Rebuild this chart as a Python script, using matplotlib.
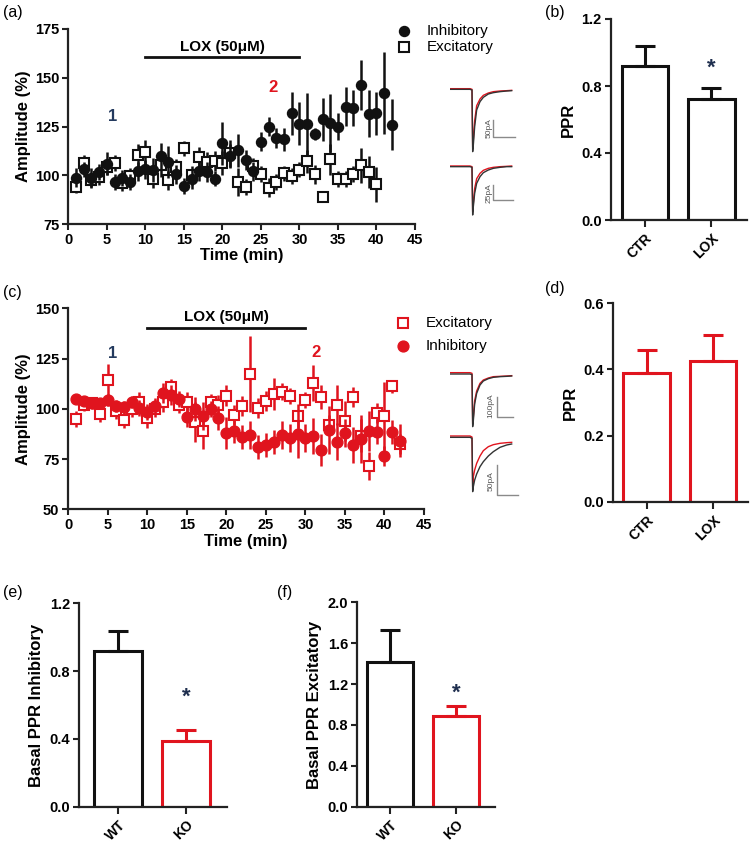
import matplotlib
matplotlib.use("Agg")
import matplotlib.pyplot as plt
import numpy as np

plt.rcParams['font.family'] = ['Liberation Sans', 'DejaVu Sans']

W, H = 755, 843
RED = '#e0141e'
BLK = '#111111'

# ---------------- data ----------------
time_inh_a = list(range(1, 43))
inh_a = [98.8, 103, 98.8, 101.7, 106, 96.6, 98.7, 96.6, 102, 103, 102.6, 109.7, 106.8, 100.4,
         94.6, 98, 102.2, 101.7, 98.3, 116.5, 109.9, 112.8, 107.7, 102, 117.3, 125, 119.2, 118.4,
         131.8, 126.4, 126.4, 121.3, 128.6, 126.7, 125, 135.2, 134.5, 146.3, 131.5, 131.8, 142.2, 126]
inh_a_err = [5, 4, 5, 4, 6, 4, 4, 4, 5, 5, 6, 7, 8, 5, 4, 5, 5, 5, 4, 11, 6, 8.5, 5, 5, 5, 5, 5, 6,
             11, 11, 16, 3, 11, 15, 7, 10, 9, 13, 12, 11, 21, 13]
time_exc_a = list(range(1, 41))
exc_a = [94.1, 106.3, 97.4, 99, 104, 106.3, 96, 99.5, 110.2, 111.9, 98.3, 105.1, 97.4, 104.3, 113.8,
         100, 109.5, 106.9, 107.2, 106.3, 111.2, 96.6, 94.1, 104.8, 100.5, 93.6, 96.6, 100.9, 99.5,
         102.9, 107.1, 100.5, 89, 108.2, 98, 98, 100.5, 105.1, 101.7, 95.3]
exc_a_err = [3, 4, 4, 4, 4, 4, 4, 4, 6, 6, 5, 6, 5, 4, 4, 5, 5, 5, 5, 6, 7, 7, 4, 4, 4, 5, 4, 4, 4,
             4, 6, 5, 2, 8, 4, 4, 4, 9, 8, 9]

time_c = list(range(1, 43))
inh_c = [105, 103.8, 102.8, 102.8, 104.6, 101.5, 101, 103.3, 100.5, 98.5, 101.2, 107.8, 106.8, 105,
         96, 100, 96.5, 100, 95.4, 88, 89, 85.9, 87.1, 80.9, 82.1, 83.7, 87.1, 85.4, 87.6, 85.4,
         86.4, 79.3, 89.5, 83.7, 87.9, 81.8, 85.1, 89, 88.7, 76.5, 88.4, 84.2]
inh_c_err = [2, 2, 2, 2, 3, 3, 3, 3, 4, 4, 4, 5, 5, 4, 5, 6, 7, 4, 6, 8, 6, 6, 7, 6, 6, 6, 7, 7,
             12, 7, 9, 8, 12, 9, 7, 9, 12, 10, 6, 5, 6, 8]
exc_c = [95, 102, 103, 97.5, 114.1, 98.7, 94.2, 100, 103.6, 95.4, 100, 103.3, 110.7, 101.7, 103.3,
         93.4, 89.2, 103.3, 101.7, 106.6, 97, 101.3, 117.3, 100.3, 103.8, 107.5, 108.6, 106.3, 96.2,
         104.5, 112.8, 105.8, 92, 101.7, 93.9, 105.8, 86.7, 71.5, 97.8, 96.3, 111.1, 82.6]
exc_c_err = [4, 3, 3, 4, 8, 4, 4, 4, 5, 5, 4, 5, 4, 4, 5, 10, 9, 4, 5, 5, 5, 5, 19, 5, 5, 8, 4, 4,
             6, 4, 9, 6, 5, 10, 10, 5, 8, 7, 5, 17, 3, 5]

time_ticks = [0, 5, 10, 15, 20, 25, 30, 35, 40, 45]
lox_start, lox_end = 10, 30

cat_b = ['CTR', 'LOX']
ppr_b = [0.921, 0.722]
ppr_b_err = [0.12, 0.068]
cat_d = ['CTR', 'LOX']
ppr_d = [0.390, 0.426]
ppr_d_err = [0.069, 0.078]
cat_e = ['WT', 'KO']
ppr_e = [0.918, 0.388]
ppr_e_err = [0.12, 0.065]
cat_f = ['WT', 'KO']
ppr_f = [1.42, 0.89]
ppr_f_err = [0.31, 0.10]

# example traces (inset coordinates)
tr_x = [0, 60, 66, 68, 70, 74, 80, 90, 100, 115, 130, 150, 170, 185]
tr_a1_blk = [88, 88, 90, 275, 255, 200, 150, 125, 112, 102, 98, 95, 93, 92]
tr_a1_red = [86, 86, 88, 262, 240, 182, 137, 117, 106, 99, 95, 93, 92, 91]
tr_a2_blk = [320, 320, 322, 465, 440, 400, 370, 350, 338, 330, 325, 322, 320, 320]
tr_a2_red = [318, 318, 320, 455, 430, 385, 356, 340, 331, 325, 322, 320, 319, 318]
tr_c1_blk = [132, 132, 134, 290, 272, 222, 190, 165, 153, 146, 142, 140, 139, 138]
tr_c1_red = [128, 128, 130, 282, 262, 212, 183, 160, 150, 144, 140, 139, 138, 137]
tr_c2_blk = [322, 322, 325, 485, 470, 450, 432, 410, 395, 378, 365, 352, 345, 342]
tr_c2_red = [318, 318, 321, 470, 440, 420, 400, 378, 362, 350, 344, 340, 338, 337]

fig = plt.figure(figsize=(W / 100, H / 100), dpi=100)


def ax_px(l, t, r, b):
    return fig.add_axes([l / W, 1 - b / H, (r - l) / W, (b - t) / H])


def style(ax):
    for s in ['top', 'right']:
        ax.spines[s].set_visible(False)
    for s in ['left', 'bottom']:
        ax.spines[s].set_linewidth(1.6)
        ax.spines[s].set_color('#222222')
    ax.tick_params(axis='both', which='major', length=4.5, width=1.5, color='#222222',
                   labelsize=10.5, pad=2)
    for lab in ax.get_xticklabels() + ax.get_yticklabels():
        lab.set_fontweight('bold')


def time_panel(ax, ylim, yticks):
    ax.set_xlim(0, 45)
    ax.set_ylim(*ylim)
    ax.set_xticks(time_ticks)
    ax.set_yticks(yticks)
    style(ax)
    ax.set_xlabel('Time (min)', fontsize=12, fontweight='bold', labelpad=1)
    ax.set_ylabel('Amplitude (%)', fontsize=12, fontweight='bold', labelpad=3)


# ---------------- panel (a) ----------------
axa = ax_px(68.3, 29, 415, 224)
axa.errorbar(time_exc_a, exc_a, yerr=exc_a_err, fmt='s', ms=6.5, mfc='white', mec=BLK, mew=1.5,
             ecolor=BLK, elinewidth=1.8, capsize=0, zorder=3)
axa.errorbar(time_inh_a, inh_a, yerr=inh_a_err, fmt='o', ms=7.2, color=BLK,
             ecolor=BLK, elinewidth=1.8, capsize=0, zorder=4)
time_panel(axa, (75, 175), [75, 100, 125, 150, 175])
axa.plot([lox_start, lox_end], [160.5, 160.5], color=BLK, lw=2, clip_on=False)
axa.text(20, 166, 'LOX (50μM)', ha='center', va='center', fontsize=11, fontweight='bold')
axa.text(5.7, 130, '1', ha='center', va='center', fontsize=12, fontweight='bold', color='#243a5e')
axa.text(26.6, 145, '2', ha='center', va='center', fontsize=12, fontweight='bold', color=RED)

# ---------------- panel (c) ----------------
axc = ax_px(68.3, 308.3, 424, 509.3)
axc.errorbar(time_c, exc_c, yerr=exc_c_err, fmt='s', ms=6.8, mfc='white', mec=RED, mew=1.5,
             ecolor=RED, elinewidth=1.8, capsize=0, zorder=3)
axc.errorbar(time_c, inh_c, yerr=inh_c_err, fmt='o', ms=7.8, color=RED,
             ecolor=RED, elinewidth=1.8, capsize=0, zorder=4)
time_panel(axc, (50, 150), [50, 75, 100, 125, 150])
axc.plot([lox_start, lox_end], [140, 140], color=BLK, lw=2, clip_on=False)
axc.text(20, 145.6, 'LOX (50μM)', ha='center', va='center', fontsize=11, fontweight='bold')
axc.text(5.6, 127.5, '1', ha='center', va='center', fontsize=12, fontweight='bold', color='#243a5e')
axc.text(31.4, 128, '2', ha='center', va='center', fontsize=12, fontweight='bold', color=RED)


# ---------------- bar panels ----------------
def bar_panel(ax, cats, vals, errs, colors, ylim, yticks, ylabel, xlim):
    x = np.arange(len(cats))
    ax.bar(x, vals, width=0.7, color='white', edgecolor=colors, linewidth=2.2, zorder=2)
    for xi, v, e, c in zip(x, vals, errs, colors):
        ax.errorbar([xi], [v], yerr=[[0], [e]], fmt='none', ecolor=c, elinewidth=2.2,
                    capsize=7.5, capthick=2.2, zorder=3)
    ax.set_xlim(*xlim)
    ax.set_ylim(*ylim)
    ax.set_yticks(yticks)
    ax.set_yticklabels(['%.1f' % v for v in yticks])
    ax.set_xticks(x)
    ax.set_xticklabels(cats, rotation=45, ha='right', rotation_mode='anchor')
    style(ax)
    ax.tick_params(axis='x', length=5, pad=3, labelsize=10)
    ax.set_ylabel(ylabel, fontsize=12, fontweight='bold', labelpad=4)


axb = ax_px(610.7, 19, 746.7, 220)
bar_panel(axb, cat_b, ppr_b, ppr_b_err, [BLK, BLK], (0, 1.2), [0.0, 0.4, 0.8, 1.2], 'PPR',
          (-0.516, 1.53))
axb.text(1, 0.905, '*', ha='center', va='center', fontsize=16, fontweight='bold', color='#1f2f4f')

axd = ax_px(612.7, 303.3, 747.7, 501.7)
bar_panel(axd, cat_d, ppr_d, ppr_d_err, [RED, RED], (0, 0.6), [0.0, 0.2, 0.4, 0.6], 'PPR',
          (-0.51, 1.52))

axe = ax_px(79, 603.3, 226.7, 806.7)
bar_panel(axe, cat_e, ppr_e, ppr_e_err, [BLK, RED], (0, 1.2), [0.0, 0.4, 0.8, 1.2],
          'Basal PPR Inhibitory', (-0.576, 1.6))
axe.text(1, 0.645, '*', ha='center', va='center', fontsize=16, fontweight='bold', color='#1f2f4f')

axf = ax_px(357, 602.3, 495, 806.7)
bar_panel(axf, cat_f, ppr_f, ppr_f_err, [BLK, RED], (0, 2.0), [0.0, 0.4, 0.8, 1.2, 1.6, 2.0],
          'Basal PPR Excitatory', (-0.5, 1.59))
axf.text(1, 1.11, '*', ha='center', va='center', fontsize=16, fontweight='bold', color='#1f2f4f')

# ---------------- overlay: panel labels, legends ----------------
ov = fig.add_axes([0, 0, 1, 1], facecolor='none')
ov.set_xlim(0, W)
ov.set_ylim(H, 0)
ov.axis('off')
for lab, (x, y) in {'(a)': (3, 12), '(b)': (545, 13), '(c)': (3, 293), '(d)': (545, 288),
                    '(e)': (3, 593), '(f)': (277, 593)}.items():
    ov.text(x, y, lab, ha='left', va='center', fontsize=11.5)

# legends
ov.plot([404], [31], 'o', ms=7.2, color=BLK)
ov.text(427, 31, 'Inhibitory', va='center', fontsize=11)
ov.plot([404], [47], 's', ms=6.5, mfc='white', mec=BLK, mew=1.5)
ov.text(427, 47, 'Excitatory', va='center', fontsize=11)
ov.plot([403], [323], 's', ms=6.8, mfc='white', mec=RED, mew=1.5)
ov.text(426, 323, 'Excitatory', va='center', fontsize=11)
ov.plot([403], [346], 'o', ms=7.8, color=RED)
ov.text(426, 346, 'Inhibitory', va='center', fontsize=11)


# ---------------- insets with example traces ----------------
def inset(l, t, r, b, ymax):
    a = ax_px(l, t, r, b)
    a.set_xlim(0, 240)
    a.set_ylim(ymax, 0)
    a.axis('off')
    return a


GREY = '#8a8a8a'
ia = inset(450, 60, 530, 220, 480)
ia.plot(tr_x, tr_a1_red, color=RED, lw=1.0)
ia.plot(tr_x, tr_a1_blk, color='#333333', lw=1.0)
ia.plot(tr_x, tr_a2_red, color=RED, lw=1.0)
ia.plot(tr_x, tr_a2_blk, color='#333333', lw=1.0)
ia.plot([130, 130, 195], [180, 230, 230], color=GREY, lw=1.0)
ia.plot([130, 130, 190], [375, 420, 420], color=GREY, lw=1.0)
ia.text(117, 205, '50pA', rotation=90, ha='center', va='center', fontsize=6, color='#555555')
ia.text(117, 398, '25pA', rotation=90, ha='center', va='center', fontsize=6, color='#555555')

ic = inset(450, 330, 530, 500, 510)
ic.plot(tr_x, tr_c1_red, color=RED, lw=1.0)
ic.plot(tr_x, tr_c1_blk, color='#333333', lw=1.0)
ic.plot(tr_x, tr_c2_red, color=RED, lw=1.0)
ic.plot(tr_x, tr_c2_blk, color='#333333', lw=1.0)
ic.plot([140, 140, 190], [200, 260, 260], color=GREY, lw=1.0)
ic.plot([140, 140, 205], [405, 495, 495], color=GREY, lw=1.0)
ic.text(124, 228, '100pA', rotation=90, ha='center', va='center', fontsize=6, color='#555555')
ic.text(124, 452, '50pA', rotation=90, ha='center', va='center', fontsize=6, color='#555555')

fig.savefig('out.png', dpi=100)
